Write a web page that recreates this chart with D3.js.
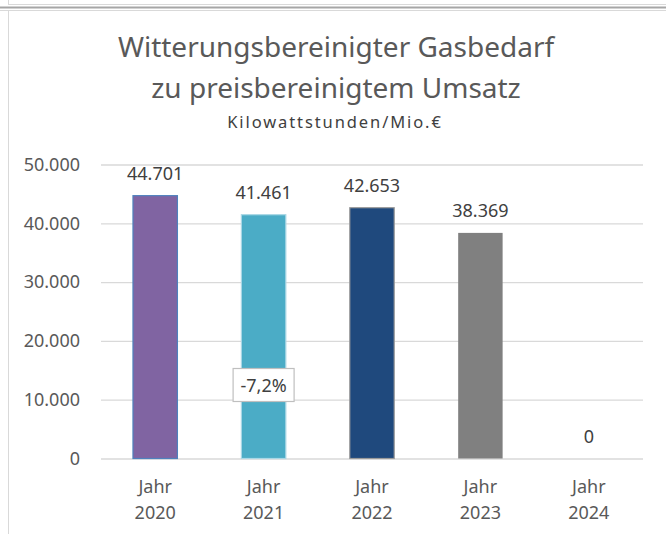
<!DOCTYPE html>
<html>
<head>
    <meta charset="utf-8">
    <script src="https://d3js.org/d3.v7.min.js"></script>
    <style>
        body { margin: 0; background: white; }
        svg text { font-family: "Noto Sans", "Open Sans", sans-serif; }
    </style>
</head>
<body>
    <svg id="chart" width="666" height="534"></svg>
    <script>
        // chart data
        const categories = ["Jahr 2020", "Jahr 2021", "Jahr 2022", "Jahr 2023", "Jahr 2024"];
        const values = [44701, 41461, 42653, 38369, 0];
        const valueLabels = ["44.701", "41.461", "42.653", "38.369", "0"];
        const yTicks = [0, 10000, 20000, 30000, 40000, 50000];
        const yTickLabels = ["0", "10.000", "20.000", "30.000", "40.000", "50.000"];
        const changeLabel = { category: "Jahr 2021", text: "-7,2%", at: 12500 };

        const barFill = ["#8064A2", "#4BACC6", "#1F497D", "#808080", "#808080"];
        const barStroke = ["#4F81BD", "#A9D7E5", "#9A9A9A", "none", "none"];

        const svg = d3.select("#chart");
        const textColor = "#595959";

        // frame lines from the surrounding sheet
        svg.append("line").attr("x1", 8.5).attr("x2", 8.5).attr("y1", 0).attr("y2", 5)
            .attr("stroke", "#d9d9d9");
        svg.append("line").attr("x1", 8).attr("x2", 666).attr("y1", 4.5).attr("y2", 4.5)
            .attr("stroke", "#d9d9d9");
        svg.append("line").attr("x1", 0).attr("x2", 666).attr("y1", 7.5).attr("y2", 7.5)
            .attr("stroke", "#a6a6a6").attr("stroke-width", 2);
        svg.append("line").attr("x1", 0).attr("x2", 666).attr("y1", 10.5).attr("y2", 10.5)
            .attr("stroke", "#d9d9d9");
        svg.append("line").attr("x1", 8.5).attr("x2", 8.5).attr("y1", 10).attr("y2", 534)
            .attr("stroke", "#d9d9d9");

        // titles
        svg.append("text").attr("x", 336).attr("y", 57).attr("text-anchor", "middle")
            .attr("font-size", 28).attr("fill", textColor)
            .text("Witterungsbereinigter Gasbedarf");
        svg.append("text").attr("x", 336).attr("y", 98).attr("text-anchor", "middle")
            .attr("font-size", 28).attr("fill", textColor)
            .text("zu preisbereinigtem Umsatz");
        svg.append("text").attr("x", 335).attr("y", 128).attr("text-anchor", "middle")
            .attr("font-size", 16.5).attr("letter-spacing", 1.9).attr("fill", "#404040")
            .text("Kilowattstunden/Mio.€");

        // scales
        const x = d3.scaleBand()
            .domain(categories)
            .range([101, 643])
            .paddingInner(0.59)
            .paddingOuter(0.295);

        const y = d3.scaleLinear()
            .domain([0, 50000])
            .range([458.5, 164.5]);

        // gridlines + y labels
        const yAxis = d3.axisLeft(y)
            .tickValues(yTicks)
            .tickSize(-(643 - 101))
            .tickPadding(21)
            .tickFormat((d, i) => yTickLabels[i]);

        const gy = svg.append("g")
            .attr("transform", "translate(101,0)")
            .call(yAxis);
        gy.select(".domain").remove();
        gy.selectAll(".tick line").attr("stroke", "#d9d9d9").attr("stroke-width", 1.3);
        gy.selectAll(".tick text").attr("font-size", 18).attr("fill", textColor)
            .attr("font-family", "Noto Sans");

        // bars
        svg.selectAll("rect.bar")
            .data(values)
            .enter()
            .append("rect")
            .attr("class", "bar")
            .attr("x", (d, i) => x(categories[i]))
            .attr("y", d => y(d))
            .attr("width", x.bandwidth())
            .attr("height", d => y(0) - y(d))
            .attr("fill", (d, i) => barFill[i])
            .attr("stroke", (d, i) => barStroke[i])
            .attr("stroke-width", 1.2);

        // value labels
        svg.selectAll("text.value")
            .data(values)
            .enter()
            .append("text")
            .attr("class", "value")
            .attr("x", (d, i) => x(categories[i]) + x.bandwidth() / 2)
            .attr("y", d => y(d) - 16)
            .attr("text-anchor", "middle")
            .attr("font-size", 18)
            .attr("fill", "#404040")
            .text((d, i) => valueLabels[i]);

        // x labels (two lines)
        const xl = svg.selectAll("text.xlab")
            .data(categories)
            .enter()
            .append("text")
            .attr("class", "xlab")
            .attr("text-anchor", "middle")
            .attr("font-size", 18)
            .attr("fill", textColor);
        xl.each(function (d) {
            const parts = d.split(" ");
            const cx = x(d) + x.bandwidth() / 2;
            d3.select(this).selectAll("tspan")
                .data(parts)
                .enter()
                .append("tspan")
                .attr("x", cx)
                .attr("y", (p, j) => 493 + j * 26)
                .text(p => p);
        });

        // change callout
        const cx = x(changeLabel.category) + x.bandwidth() / 2;
        const cy = y(changeLabel.at);
        svg.append("rect")
            .attr("x", cx - 30.5).attr("y", cy - 16.5)
            .attr("width", 61).attr("height", 33)
            .attr("fill", "white").attr("stroke", "#bfbfbf").attr("stroke-width", 1.2);
        svg.append("text")
            .attr("x", cx).attr("y", cy + 6.5)
            .attr("text-anchor", "middle")
            .attr("font-size", 18)
            .attr("fill", "#404040")
            .text(changeLabel.text);
    </script>
</body>
</html>
